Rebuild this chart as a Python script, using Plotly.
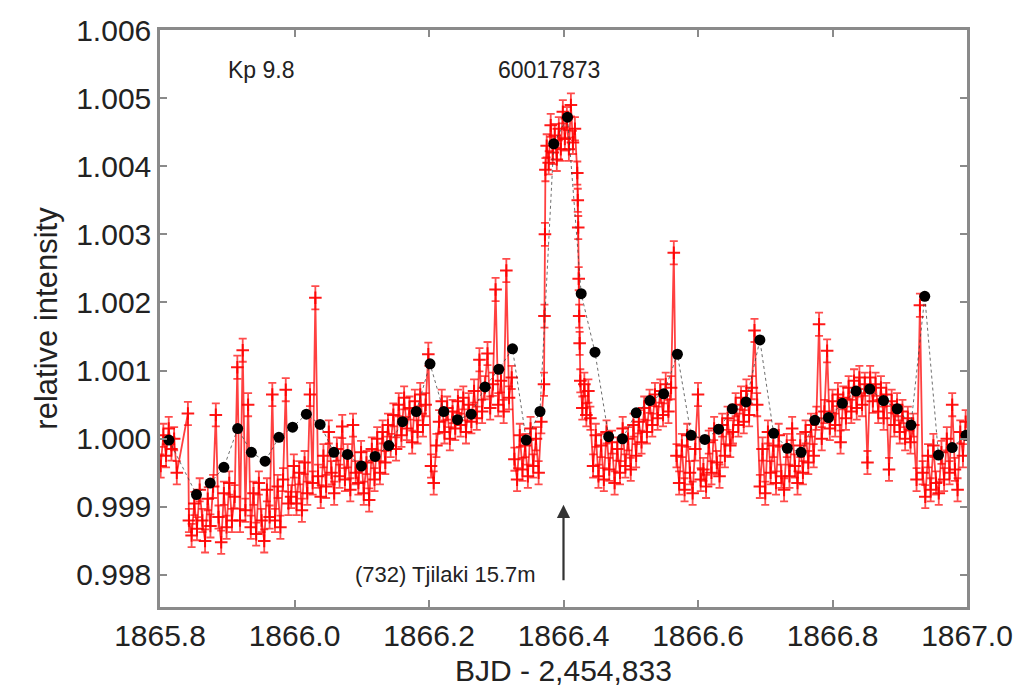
import plotly.graph_objects as go

# ---------------- data ----------------
# 1-min (short cadence) relative intensity
red_t = [
    1865.801, 1865.805, 1865.809, 1865.813, 1865.817, 1865.821, 1865.825,
    1865.8415,
    1865.843, 1865.847, 1865.851, 1865.855, 1865.859, 1865.863, 1865.867, 1865.871, 1865.875, 1865.879,
    1865.883, 1865.887, 1865.891, 1865.895, 1865.899, 1865.903, 1865.907, 1865.911, 1865.915, 1865.919,
    1865.923, 1865.927, 1865.931, 1865.935, 1865.939, 1865.943, 1865.947, 1865.951, 1865.955, 1865.959,
    1865.963, 1865.967, 1865.971, 1865.975, 1865.979, 1865.983, 1865.987, 1865.991,
    1865.995, 1865.999, 1866.003, 1866.007, 1866.011, 1866.015, 1866.019, 1866.023, 1866.027, 1866.031,
    1866.035, 1866.039,
    1866.043, 1866.047, 1866.051, 1866.055, 1866.059, 1866.063, 1866.067, 1866.071, 1866.075, 1866.079,
    1866.083, 1866.087, 1866.091,
    1866.095, 1866.099, 1866.103, 1866.107, 1866.111, 1866.115, 1866.119, 1866.123, 1866.127, 1866.131,
    1866.135, 1866.139,
    1866.143, 1866.147, 1866.151, 1866.155, 1866.159, 1866.163, 1866.167, 1866.171, 1866.175, 1866.179,
    1866.183, 1866.187, 1866.191, 1866.195, 1866.199,
    1866.203, 1866.207, 1866.211,
    1866.215, 1866.219, 1866.223, 1866.227, 1866.231, 1866.235, 1866.239, 1866.243, 1866.247, 1866.251,
    1866.255, 1866.259, 1866.263, 1866.267, 1866.271, 1866.275, 1866.279, 1866.283, 1866.287, 1866.291,
    1866.295, 1866.299, 1866.303, 1866.307, 1866.311, 1866.315, 1866.319, 1866.323,
    1866.327, 1866.331, 1866.335, 1866.339, 1866.343, 1866.347, 1866.351, 1866.355, 1866.359, 1866.363,
    1866.367,
    1866.3710, 1866.3717, 1866.3724, 1866.3731,
    1866.375, 1866.378, 1866.381, 1866.384, 1866.387, 1866.390, 1866.393, 1866.396, 1866.399, 1866.402,
    1866.405, 1866.408, 1866.411, 1866.414, 1866.417,
    1866.4205, 1866.4212, 1866.4219, 1866.4226, 1866.4233, 1866.4240, 1866.425, 1866.428, 1866.431,
    1866.434, 1866.437, 1866.440,
    1866.444, 1866.448, 1866.452, 1866.456, 1866.460, 1866.464, 1866.468, 1866.472, 1866.476, 1866.480,
    1866.484, 1866.488, 1866.492, 1866.496, 1866.500, 1866.504, 1866.508,
    1866.512, 1866.516, 1866.520, 1866.524, 1866.528, 1866.532, 1866.536, 1866.540, 1866.544, 1866.548,
    1866.552, 1866.556, 1866.560, 1866.564, 1866.568,
    1866.572, 1866.576, 1866.580, 1866.584, 1866.588, 1866.592, 1866.596, 1866.600, 1866.604, 1866.608,
    1866.612, 1866.616, 1866.620, 1866.624, 1866.628, 1866.632, 1866.636, 1866.640, 1866.644, 1866.648,
    1866.652, 1866.656, 1866.660, 1866.664, 1866.668, 1866.672, 1866.676, 1866.680, 1866.684, 1866.688,
    1866.692, 1866.696, 1866.700, 1866.704, 1866.708, 1866.712, 1866.716, 1866.720, 1866.724, 1866.728,
    1866.732, 1866.736, 1866.740, 1866.744, 1866.748,
    1866.752, 1866.756, 1866.760, 1866.764, 1866.768, 1866.772, 1866.776, 1866.780, 1866.784, 1866.788,
    1866.792, 1866.796, 1866.800, 1866.804, 1866.808, 1866.812, 1866.816, 1866.820, 1866.824, 1866.828,
    1866.832, 1866.836, 1866.840, 1866.844, 1866.848, 1866.852, 1866.856, 1866.860,
    1866.864, 1866.868, 1866.872, 1866.876, 1866.880, 1866.884, 1866.888, 1866.892, 1866.896, 1866.900,
    1866.904, 1866.908, 1866.912, 1866.916, 1866.920, 1866.925,
    1866.930, 1866.934, 1866.938, 1866.942, 1866.946, 1866.950, 1866.954, 1866.958, 1866.962, 1866.966,
    1866.970, 1866.974, 1866.978, 1866.982, 1866.986, 1866.990, 1866.994, 1866.998,
]
red_flux = [
    0.99960, 1.00005, 0.99975, 1.00015, 0.99985, 1.00000, 0.99950,
    1.00037,
    0.99880, 0.99858, 0.99905, 0.99868, 0.99925, 0.99880, 0.99850, 0.99912, 0.99872, 0.99930,
    1.00035, 0.99885, 0.99848, 0.99920, 0.99870, 0.99935, 0.99880, 0.99915, 1.00105, 0.99880,
    1.00130, 0.99895, 1.00050, 0.99870, 0.99920, 0.99860, 0.99935, 0.99880, 0.99850, 0.99925,
    0.99885, 1.00065, 0.99880, 0.99930, 0.99870, 0.99940, 1.00072, 0.99905,
    0.99915, 0.99960, 0.99905, 0.99950, 0.99895, 0.99965, 0.99920, 1.00065, 0.99935, 1.00207,
    0.99945, 0.99915,
    0.99975, 0.99930, 1.00010, 0.99950, 0.99920, 0.99985, 0.99945, 1.00018, 0.99940, 0.99975,
    0.99925, 1.00020, 0.99950,
    0.99935, 0.99980, 0.99920, 0.99965, 0.99910, 0.99985, 0.99940, 1.00000, 0.99950, 1.00010,
    0.99965, 1.00020,
    0.99990, 1.00035, 0.99985, 1.00050, 1.00005, 1.00060, 1.00015, 1.00045, 0.99995, 1.00055,
    1.00010, 1.00065, 1.00020, 1.00050, 1.00124,
    0.99960, 0.99935, 0.99990,
    1.00025, 1.00055, 1.00010, 1.00045, 1.00000, 1.00040, 1.00015, 1.00055, 1.00020, 1.00060,
    1.00010, 1.00050, 1.00025, 1.00070, 1.00030, 1.00116, 1.00040, 1.00075, 1.00125, 1.00045,
    1.00080, 1.00219, 1.00050, 1.00085, 1.00040, 1.00247, 1.00060, 1.00090,
    0.99970, 0.99940, 1.00005, 0.99955, 0.99990, 0.99945, 1.00015, 0.99960, 1.00000, 0.99950,
    1.00025,
    1.00080, 1.00180, 1.00300, 1.00395,
    1.00430, 1.00405, 1.00460, 1.00420, 1.00445, 1.00410, 1.00455, 1.00425, 1.00480, 1.00440,
    1.00470, 1.00425, 1.00490, 1.00435, 1.00455,
    1.00390, 1.00350, 1.00310, 1.00235, 1.00180, 1.00140, 1.00085, 1.00045, 1.00080,
    1.00035, 1.00070, 1.00030,
    0.99960, 1.00005, 0.99945, 0.99990, 0.99940, 1.00010, 0.99955, 0.99995, 0.99935, 0.99985,
    0.99950, 1.00015, 0.99960, 1.00000, 0.99955, 1.00020, 0.99975,
    1.00025, 0.99995, 1.00045, 1.00010, 1.00055, 1.00020, 1.00065, 1.00030, 1.00070, 1.00035,
    1.00080, 1.00040, 1.00075, 1.00273, 0.99975,
    0.99935, 0.99990, 0.99925, 1.00005, 0.99950, 0.99920, 0.99985, 1.00065, 0.99940, 0.99955,
    0.99930, 0.99995, 0.99950, 1.00015, 0.99965, 0.99945, 1.00020, 0.99975, 1.00030, 0.99990,
    1.00010, 1.00050, 1.00020, 1.00060, 1.00025, 1.00070, 1.00035, 1.00075, 1.00159, 1.00050,
    0.99930, 0.99985, 0.99920, 1.00010, 0.99950, 0.99990, 0.99935, 1.00005, 0.99945, 0.99925,
    0.99990, 0.99945, 1.00015, 0.99960, 0.99935,
    0.99990, 0.99950, 1.00010, 0.99965, 1.00020, 0.99975, 1.00030, 1.00168, 1.00000, 1.00040,
    1.00129, 1.00015, 1.00055, 1.00020, 1.00065, 0.99995, 1.00060, 1.00030, 1.00075, 1.00040,
    1.00085, 1.00045, 1.00090, 1.00050, 1.00080, 0.99965, 1.00090, 1.00055,
    1.00080, 1.00040, 1.00075, 1.00030, 1.00065, 0.99955, 1.00055, 1.00020, 1.00050, 1.00010,
    1.00040, 1.00000, 1.00030, 0.99995, 1.00020, 0.99940,
    1.00196, 0.99950, 0.99915, 0.99975, 0.99925, 0.99990, 0.99935, 0.99920, 0.99980, 0.99940,
    1.00000, 0.99950, 1.00050, 0.99955, 0.99925, 1.00010, 0.99975, 1.00025,
]
red_err = 0.00017

# 29.4-min (long cadence) points
black_t = [
    1865.8133, 1865.8542, 1865.8746, 1865.8950, 1865.9155, 1865.9359, 1865.9563, 1865.9768,
    1865.9972, 1866.0176, 1866.0381, 1866.0585, 1866.0789, 1866.0994, 1866.1198, 1866.1402,
    1866.1607, 1866.1811, 1866.2015, 1866.2220, 1866.2424, 1866.2628, 1866.2833, 1866.3037,
    1866.3242, 1866.3446, 1866.3650, 1866.3855, 1866.4059, 1866.4263, 1866.4468, 1866.4672,
    1866.4876, 1866.5081, 1866.5285, 1866.5489, 1866.5694, 1866.5898, 1866.6102, 1866.6307,
    1866.6511, 1866.6715, 1866.6920, 1866.7124, 1866.7328, 1866.7533, 1866.7737, 1866.7941,
    1866.8146, 1866.8350, 1866.8554, 1866.8759, 1866.8963, 1866.9167, 1866.9372, 1866.9576,
    1866.9780, 1866.9985,
]
black_flux = [
    0.99998, 0.99918, 0.99935, 0.99958, 1.00015, 0.99980, 0.99967, 1.00002,
    1.00017, 1.00036, 1.00021, 0.99980, 0.99977, 0.99960, 0.99974, 0.99990,
    1.00025, 1.00040, 1.00110, 1.00040, 1.00028, 1.00036, 1.00076, 1.00102,
    1.00132, 0.99998, 1.00040, 1.00433, 1.00472, 1.00213, 1.00127, 1.00003,
    1.00000, 1.00038, 1.00056, 1.00066, 1.00124, 1.00005, 0.99999, 1.00014,
    1.00044, 1.00054, 1.00145, 1.00008, 0.99986, 0.99980, 1.00027, 1.00031,
    1.00052, 1.00070, 1.00073, 1.00056, 1.00044, 1.00020, 1.00209, 0.99976,
    0.99987, 1.00005,
]

x_ticks = [1865.8, 1866.0, 1866.2, 1866.4, 1866.6, 1866.8, 1867.0]
y_ticks = [0.998, 0.999, 1.000, 1.001, 1.002, 1.003, 1.004, 1.005, 1.006]

# ---------------- figure ----------------
FONT = "Liberation Sans, Arial, Helvetica, sans-serif"
AXIS_GRAY = "#8a8a8a"
TEXT = "#222222"

fig = go.Figure()

fig.add_trace(go.Scatter(
    x=red_t, y=red_flux, mode="lines+markers",
    line=dict(color="rgba(255,0,0,0.75)", width=1.8),
    marker=dict(symbol="cross-thin", size=9, line=dict(color="rgba(255,0,0,0.9)", width=2)),
    error_y=dict(type="constant", value=red_err, color="rgba(255,0,0,0.7)", thickness=1.8, width=4),
    hoverinfo="skip", showlegend=False,
))

fig.add_trace(go.Scatter(
    x=black_t, y=black_flux, mode="lines+markers",
    line=dict(color="rgba(60,60,60,0.75)", width=1, dash="dot"),
    marker=dict(symbol="circle", size=11, color="black"),
    hoverinfo="skip", showlegend=False,
))

fig.add_annotation(x=1865.951, y=1.00542, text="Kp 9.8", showarrow=False,
                   font=dict(family=FONT, size=23, color=TEXT))
fig.add_annotation(x=1866.379, y=1.00542, text="60017873", showarrow=False,
                   font=dict(family=FONT, size=23, color=TEXT))
fig.add_annotation(x=1866.225, y=0.99800, text="(732) Tjilaki 15.7m", showarrow=False,
                   font=dict(family=FONT, size=22, color=TEXT))
fig.add_annotation(x=1866.4, y=0.99903, ax=1866.4, ay=0.99790, axref="x", ayref="y",
                   xref="x", yref="y", text="", showarrow=True,
                   arrowhead=2, arrowsize=1.2, arrowwidth=2.2, arrowcolor="#333333")

axis_common = dict(
    showline=True, linecolor=AXIS_GRAY, linewidth=2.5, mirror="ticks",
    ticks="inside", ticklen=7, tickwidth=1.5, tickcolor=AXIS_GRAY,
    showgrid=False, zeroline=False,
    tickfont=dict(family=FONT, size=30, color=TEXT),
)

fig.update_xaxes(
    range=[1865.8, 1867.0], tickvals=x_ticks, tickformat=".1f",
    title=dict(text="BJD - 2,454,833", font=dict(family=FONT, size=30, color=TEXT), standoff=10),
    **axis_common,
)
fig.update_yaxes(
    range=[0.99753, 1.006], tickvals=y_ticks, tickformat=".3f",
    title=dict(text="relative intensity", font=dict(family=FONT, size=31, color=TEXT), standoff=10),
    **axis_common,
)

fig.update_layout(
    width=1025, height=695,
    margin=dict(l=160, r=55, t=30, b=85),
    paper_bgcolor="white", plot_bgcolor="white",
    font=dict(family=FONT, color=TEXT),
)

fig.write_html("out.html", config={"displayModeBar": False})
